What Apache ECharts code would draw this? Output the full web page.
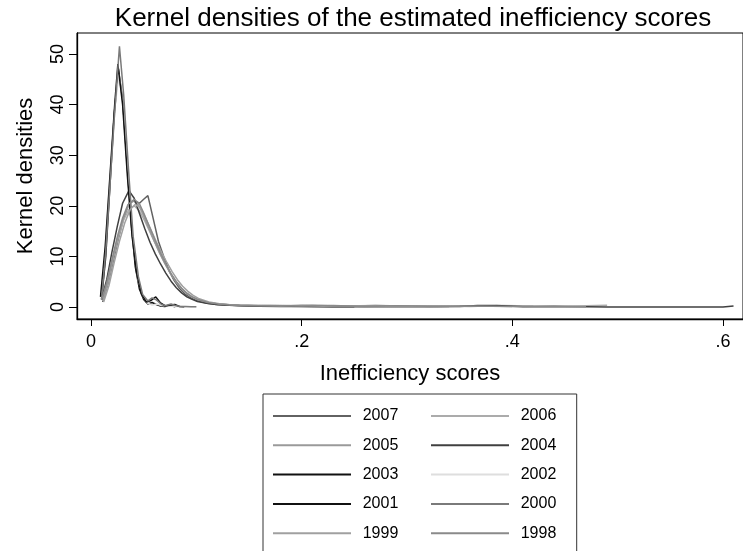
<!DOCTYPE html>
<html><head><meta charset="utf-8">
<script src="https://cdn.jsdelivr.net/npm/echarts@6/dist/echarts.min.js"></script>
<style>html,body{margin:0;padding:0;background:#fff}#c{width:743px;height:551px}</style>
</head><body><div id="c"></div>
<script>
// ---------- data ----------
const years = ['2007','2006','2005','2004','2003','2002','2001','2000','1999','1998'];
const xTicks = [0, 0.2, 0.4, 0.6];
const yTicks = [0, 10, 20, 30, 40, 50];

const x2007 = [0.011,0.016,0.021,0.026,0.031,0.036,0.041,0.046,0.050,0.054,0.059,0.064,0.069,0.074,0.079,0.084,0.089,0.094,0.099,0.109,0.119,0.129,0.139,0.149,0.169,0.189,0.209,0.229,0.25];
const y2007 = [1.0,4.5,9,13.5,17.5,20.5,21,20.5,21.3,22,17.5,13,10,7.2,5.2,3.7,2.6,1.9,1.4,0.8,0.5,0.4,0.3,0.3,0.2,0.15,0.1,0.05,0.05];

const x2006 = [0.011,0.016,0.021,0.026,0.031,0.036,0.041,0.046,0.051,0.056,0.061,0.066,0.071,0.076,0.081,0.086,0.091,0.096,0.101,0.111,0.121,0.131,0.141,0.161,0.181,0.20,0.22,0.24,0.27,0.30,0.33,0.36,0.39,0.42,0.45,0.49];
const y2006 = [1.2,4.8,9.5,13.8,17.2,19.3,20,19,17,14.8,12.6,10.4,8.3,6.5,4.9,3.6,2.7,2.0,1.5,0.9,0.6,0.45,0.35,0.3,0.25,0.35,0.3,0.2,0.3,0.15,0.2,0.1,0.3,0.2,0.15,0.35];

const x2005 = [0.011,0.016,0.021,0.026,0.031,0.036,0.040,0.045,0.050,0.055,0.060,0.065,0.070,0.075,0.080,0.085,0.090,0.095,0.100,0.110,0.120,0.130,0.140,0.155,0.17,0.19,0.21,0.24,0.27,0.30,0.33,0.36,0.40];
const y2005 = [1.3,5.0,9.8,14.2,17.8,20.2,21,20.2,18,15.5,13.0,10.7,8.6,6.8,5.2,3.9,2.9,2.1,1.6,0.95,0.6,0.45,0.35,0.25,0.3,0.2,0.35,0.15,0.3,0.2,0.1,0.25,0.1];

const x2004 = [0.010,0.015,0.020,0.025,0.030,0.036,0.041,0.046,0.051,0.056,0.061,0.066,0.071,0.076,0.081,0.086,0.091,0.096,0.101,0.111,0.121,0.131,0.141,0.16,0.18,0.2,0.23,0.26,0.29,0.32,0.35,0.367,0.385,0.41,0.44,0.47,0.49,0.52,0.55,0.58,0.60,0.61];
const y2004 = [1.5,5.5,11,16,20.5,23,21.5,18.5,15.5,12.8,10.5,8.5,6.7,5.1,3.8,2.8,2.0,1.5,1.1,0.7,0.45,0.35,0.25,0.15,0.1,0.1,0.05,0.1,0.05,0.05,0.1,0.3,0.3,0.05,0.05,0.05,0.0,0.0,0.0,0.0,0.0,0.2];

const x2003 = [0.010,0.014,0.018,0.022,0.026,0.030,0.034,0.038,0.042,0.046,0.050,0.054,0.058,0.062,0.066,0.070,0.075,0.080];
const y2003 = [1.5,10,24,38,47,41,29,17,8,3.5,1.5,0.6,0.9,0.5,0.2,0.1,0.3,0.05];

const x2002 = [0.0095,0.014,0.0185,0.023,0.0265,0.031,0.0355,0.040,0.0445,0.049,0.0535,0.058,0.0625,0.067,0.0715,0.076,0.0805,0.085,0.09,0.1];
const y2002 = [2.5,13,27,40,46,39,25,13,5.5,2.2,0.8,0.4,0.6,0.3,0.2,0.15,0.1,0.1,0.05,0.05];

const x2001 = [0.009,0.0135,0.018,0.0225,0.0255,0.030,0.0345,0.039,0.0435,0.048,0.0525,0.057,0.0615,0.066,0.0705,0.075,0.0795,0.084,0.0885];
const y2001 = [2,12,26,40,48,40,26,14,6.5,2.5,1.0,1.3,2.0,0.8,0.2,0.4,0.5,0.1,0.05];

const x2000 = [0.010,0.014,0.018,0.022,0.027,0.031,0.036,0.040,0.045,0.049,0.054,0.058,0.062,0.067,0.071,0.076,0.080,0.085,0.090,0.095,0.100];
const y2000 = [1.5,11,24,37,51.5,42,26,14,6,2.5,1.2,1.8,1.4,0.5,0.3,0.6,0.3,0.1,0.1,0.05,0.05];

const x1999 = [0.012,0.017,0.022,0.027,0.032,0.037,0.042,0.047,0.052,0.057,0.062,0.067,0.072,0.077,0.082,0.087,0.092,0.097,0.102,0.112,0.122,0.132,0.142,0.16,0.18,0.20,0.22,0.25,0.28,0.31,0.34];
const y1999 = [1.0,4.2,8.8,13.0,16.6,19.2,20.3,19.6,17.5,15.2,12.9,10.8,8.8,7.0,5.4,4.1,3.1,2.3,1.7,1.0,0.65,0.45,0.35,0.3,0.2,0.3,0.15,0.25,0.1,0.2,0.05];

const x1998 = [0.010,0.015,0.020,0.025,0.030,0.035,0.041,0.046,0.051,0.056,0.061,0.066,0.071,0.076,0.081,0.086,0.091,0.096,0.101,0.111,0.121,0.131,0.141,0.16,0.18,0.20,0.23,0.26,0.29,0.32,0.36,0.40,0.44,0.47];
const y1998 = [1.4,4.9,9.5,13.9,17.6,20.2,21.3,20.4,18.1,15.6,13.1,10.7,8.5,6.6,5.0,3.7,2.7,2.0,1.5,0.9,0.6,0.45,0.35,0.25,0.3,0.2,0.3,0.1,0.25,0.15,0.2,0.1,0.2,0.05];

// ---------- build ----------
const curves = {
  '2007':[x2007,y2007],'2006':[x2006,y2006],'2005':[x2005,y2005],'2004':[x2004,y2004],
  '2003':[x2003,y2003],'2002':[x2002,y2002],'2001':[x2001,y2001],'2000':[x2000,y2000],
  '1999':[x1999,y1999],'1998':[x1998,y1998]
};
const palette = {
  '2007':'#626262','2006':'#ababab','2005':'#9a9a9a','2004':'#404040','2003':'#111111',
  '2002':'#dedede','2001':'#111111','2000':'#7a7a7a','1999':'#a0a0a0','1998':'#8a8a8a'
};
const series = years.map(yr => {
  const [xs, ys] = curves[yr];
  return {
    name: yr, type: 'line', symbol: 'none', smooth: false,
    data: xs.map((x, i) => [x, ys[i]]),
    lineStyle: { width: 1.5, color: palette[yr] },
    itemStyle: { color: palette[yr] },
    emphasis: { disabled: true }
  };
});

const FONT = '"Liberation Sans", Arial, sans-serif';
const chart = echarts.init(document.getElementById('c'), null, { renderer: 'canvas' });
chart.setOption({
  animation: false,
  backgroundColor: '#fff',
  textStyle: { fontFamily: FONT },
  title: {
    text: 'Kernel densities of the estimated inefficiency scores',
    left: 408, top: 1, textAlign: 'center',
    textStyle: { fontFamily: FONT, fontSize: 26, fontWeight: 'normal', color: '#000' }
  },
  grid: { left: 77, top: 33, right: -2, bottom: 232, show: true, borderColor: '#000', borderWidth: 1, backgroundColor: '#fff' },
  xAxis: {
    type: 'value', min: -0.0133, max: 0.619,
    name: 'Inefficiency scores', nameLocation: 'middle', nameGap: 44,
    nameTextStyle: { fontFamily: FONT, fontSize: 22, color: '#000' },
    axisLine: { onZero: false, lineStyle: { color: '#000', width: 1.3 } },
    axisTick: { show: true, customValues: xTicks, length: 7, lineStyle: { color: '#000' } },
    axisLabel: { customValues: xTicks, margin: 14, fontFamily: FONT, fontSize: 18, color: '#000',
      formatter: v => v === 0 ? '0' : String(v).replace(/^0\./, '.') },
    splitLine: { show: false }
  },
  yAxis: {
    type: 'value', min: -2.37, max: 54.15,
    name: 'Kernel densities', nameLocation: 'middle', nameGap: 40, nameRotate: 90,
    nameTextStyle: { fontFamily: FONT, fontSize: 22, color: '#000' },
    axisLine: { onZero: false, lineStyle: { color: '#000', width: 1.3 } },
    axisTick: { show: true, customValues: yTicks, length: 8, lineStyle: { color: '#000' } },
    axisLabel: { customValues: yTicks, rotate: 90, margin: 10, fontFamily: FONT, fontSize: 18, color: '#000' },
    splitLine: { show: false }
  },
  legend: {
    data: years, selectedMode: false,
    orient: 'horizontal', left: 263, top: 394, width: 304,
    padding: [14, 2, 30, 9],
    itemWidth: 78, itemHeight: 16, itemGap: 13.3,
    itemStyle: { opacity: 0 },
    borderColor: '#333', borderWidth: 1,
    textStyle: { fontFamily: FONT, fontSize: 16, color: '#000', width: 54, height: 16, lineHeight: 16, padding: [0, 0, 0, 6.7] }
  },
  series: series
});
</script></body></html>
